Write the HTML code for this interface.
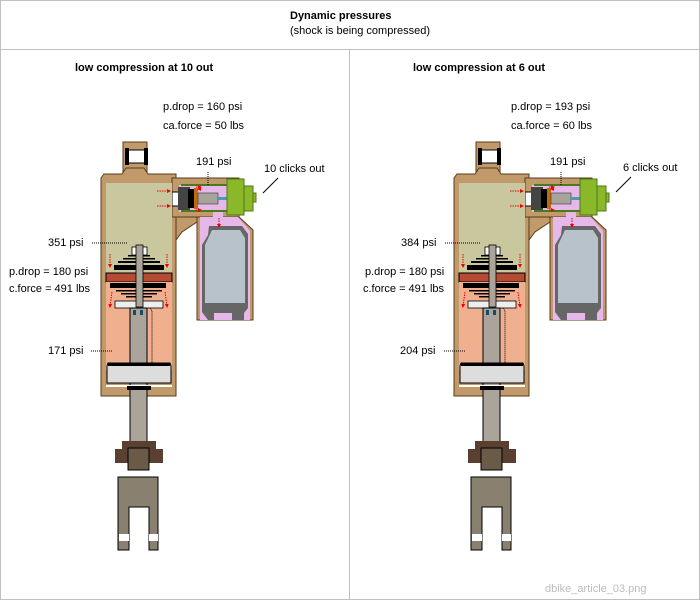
<!DOCTYPE html>
<html><head><meta charset="utf-8"><style>
html,body{margin:0;padding:0;background:#fff}
svg{display:block}
text{font-family:"Liberation Sans",sans-serif;font-size:11px;fill:#000}
.b{font-weight:bold}
</style></head><body>
<svg width="700" height="600" viewBox="0 0 700 600" xmlns="http://www.w3.org/2000/svg">
<defs>
<marker id="ar" markerWidth="4" markerHeight="4" refX="2" refY="2" orient="auto"><path d="M0,0L4,2L0,4z" fill="#e00"/></marker>
<g id="shock">
 <!-- eye -->
 <rect x="123" y="142" width="24" height="34" fill="#c09a6b" stroke="#5a3a1a" stroke-width="1"/>
 <rect x="127" y="150" width="20" height="13" fill="#fff" stroke="#000" stroke-width="1"/>
 <rect x="125" y="148" width="4" height="17" fill="#000"/><rect x="144" y="148" width="4" height="17" fill="#000"/>
 <!-- body -->
 <path d="M101,178 L104,174 L122,174 L126,168 L144,168 L148,174 L176,174 L176,396 L101,396 Z" fill="#c09a6b" stroke="#5a3a1a"/>
 <!-- valve housing -->
 <rect x="172" y="178" width="67" height="39" fill="#c09a6b" stroke="#5a3a1a"/>
 <path d="M176,217 L197,217 L197,222 L182,232 L176,240 Z" fill="#c09a6b" stroke="#5a3a1a"/>
 <!-- reservoir -->
 <path d="M197,217 L239,217 L253,230 L253,320 L197,320 Z" fill="#c09a6b" stroke="#5a3a1a"/>
 <path d="M200,217 L238,217 L250,231 L250,320 L200,320 Z" fill="#e6b8ea"/>
 <rect x="179" y="185" width="50" height="27" fill="#e6b8ea"/>
 <rect x="213" y="211" width="10" height="8" fill="#e6b8ea"/>
 <rect x="181" y="184" width="46" height="2" fill="#4a7a1a"/>
 <rect x="181" y="210" width="46" height="2" fill="#4a7a1a"/>
 <!-- canister -->
 <path d="M209,226 L242,226 L248,234 L248,308 L244,313 L244,320 L232,320 L232,313 L214,313 L214,320 L208,320 L202,312 L202,245 L208,235 Z" fill="#666"/>
 <path d="M212,230 L240,230 L245,238 L245,303 L205,303 L205,245 Z" fill="#b8c2ca"/>
 <!-- valve internals -->
 <rect x="172" y="192" width="7" height="14" fill="#fff" stroke="#000"/>
 <rect x="178" y="187" width="12" height="23" fill="#444"/>
 <path d="M188,189 L194,189 L194,208 L188,208 Z" fill="#000"/>
 <rect x="194" y="188" width="4" height="21" fill="#c06a10"/>
 <rect x="198" y="193" width="20" height="11" fill="#a8a49c" stroke="#333" stroke-width="0.6"/>
 <rect x="218" y="197" width="9" height="3" fill="#4a9ab8"/>
 <rect x="227" y="179" width="17" height="36" fill="#8ab828" stroke="#4a7a1a"/>
 <rect x="244" y="186" width="9" height="25" fill="#8ab828" stroke="#4a7a1a"/>
 <rect x="253" y="193" width="3" height="9" fill="#8ab828" stroke="#4a7a1a"/>
 <!-- main chambers -->
 <rect x="106" y="183" width="66" height="90" fill="#c9c79e"/>
 <rect x="106" y="273" width="66" height="9" fill="#b64a34" stroke="#000"/>
 <rect x="106" y="282" width="66" height="88" fill="#f0b090"/>
 <!-- shims -->
 <rect x="114" y="265" width="50" height="5" fill="#000"/>
 <rect x="118" y="261" width="42" height="2" fill="#000"/>
 <rect x="123" y="258" width="32" height="1.5" fill="#000"/>
 <rect x="128" y="255" width="22" height="1.5" fill="#000"/>
 <rect x="132" y="247" width="15" height="8" fill="#fff" stroke="#000" stroke-width="0.8"/>
 <rect x="110" y="283" width="56" height="5" fill="#000"/>
 <rect x="116" y="290" width="46" height="1.5" fill="#000"/>
 <rect x="121" y="293" width="36" height="1.5" fill="#000"/>
 <rect x="126" y="296" width="26" height="1.5" fill="#000"/>
 <rect x="115" y="301" width="48" height="7" fill="#eee" stroke="#000" stroke-width="0.8"/>
 <!-- shaft -->
 <rect x="136" y="245" width="7" height="62" fill="#aaa49a" stroke="#000" stroke-width="0.8"/>
 <rect x="130" y="308" width="17" height="160" fill="#aaa49a" stroke="#000"/>
 <rect x="133" y="310" width="3" height="5" fill="#1a4a6a"/><rect x="140" y="310" width="3" height="5" fill="#1a4a6a"/>
 <path d="M150,308 L152,311 L152,366" fill="none" stroke="#000" stroke-dasharray="1,1"/>
 <!-- piston -->
 <path d="M107,366 L108,363 L170,363 L171,366 L171,383 L107,383 Z" fill="#ddd" stroke="#000"/>
 <rect x="108" y="363" width="62" height="3" fill="#000"/>
 <rect x="106" y="385" width="66" height="2" fill="#fff"/>
 <rect x="127" y="386" width="24" height="4" fill="#000"/>
 <!-- bottom -->
 <rect x="122" y="441" width="34" height="22" fill="#5a4030"/>
 <rect x="115" y="449" width="48" height="14" fill="#5a4030"/>
 <rect x="128" y="448" width="21" height="22" fill="#6a5a48" stroke="#000"/>
 <path d="M118,477 L158,477 L158,550 L149,550 L149,507 L129,507 L129,550 L118,550 Z" fill="#8a8070" stroke="#000"/>
 <rect x="119" y="534" width="10" height="7" fill="#fff"/><rect x="149" y="534" width="9" height="7" fill="#fff"/>
 <!-- red flow arrows -->
 <g stroke="#e00" stroke-width="1" stroke-dasharray="1.5,1" fill="none" marker-end="url(#ar)">
  <line x1="157" y1="191" x2="169" y2="191"/><line x1="157" y1="206" x2="169" y2="206"/>
  <line x1="200" y1="189" x2="199" y2="189"/>
  <line x1="219" y1="218" x2="219" y2="226"/>
  <line x1="110" y1="254" x2="110" y2="266"/><line x1="167" y1="254" x2="167" y2="266"/>
  <line x1="112" y1="292" x2="110" y2="306"/><line x1="165" y1="292" x2="167" y2="306"/>
  <line x1="196" y1="187" x2="200" y2="187"/><line x1="196" y1="210" x2="200" y2="210"/>
 </g>
</g>
</defs>
<rect x="0.5" y="0.5" width="699" height="599" fill="#fff" stroke="#c0c0c0"/>
<line x1="0" y1="49.5" x2="700" y2="49.5" stroke="#c0c0c0"/>
<line x1="349.5" y1="49" x2="349.5" y2="600" stroke="#c0c0c0"/>
<text x="290" y="19" class="b">Dynamic pressures</text>
<text x="290" y="34">(shock is being compressed)</text>
<text x="75" y="71" class="b">low compression at 10 out</text>
<text x="413" y="71" class="b">low compression at 6 out</text>

<use href="#shock"/>
<use href="#shock" transform="translate(353,0)"/>

<g fill="none" stroke="#000" stroke-dasharray="1,1">
 <line x1="92" y1="243" x2="128" y2="243"/><line x1="91" y1="351" x2="113" y2="351"/>
 <line x1="208" y1="172" x2="208" y2="186"/>
 <line x1="445" y1="243" x2="481" y2="243"/><line x1="444" y1="351" x2="466" y2="351"/>
 <line x1="561" y1="172" x2="561" y2="186"/>
</g>
<g stroke="#000"><line x1="278" y1="178" x2="263" y2="193"/><line x1="631" y1="177" x2="616" y2="192"/></g>
<text x="163" y="110">p.drop = 160 psi</text>
<text x="163" y="129">ca.force = 50 lbs</text>
<text x="196" y="165">191 psi</text>
<text x="264" y="172">10 clicks out</text>
<text x="48" y="246">351 psi</text>
<text x="9" y="275">p.drop = 180 psi</text>
<text x="9" y="292">c.force = 491 lbs</text>
<text x="48" y="354">171 psi</text>
<text x="511" y="110">p.drop = 193 psi</text>
<text x="511" y="129">ca.force = 60 lbs</text>
<text x="550" y="165">191 psi</text>
<text x="623" y="171">6 clicks out</text>
<text x="401" y="246">384 psi</text>
<text x="365" y="275">p.drop = 180 psi</text>
<text x="363" y="292">c.force = 491 lbs</text>
<text x="400" y="354">204 psi</text>
<text x="545" y="592" style="fill:#bbb">dbike_article_03.png</text>
</svg>
</body></html>
